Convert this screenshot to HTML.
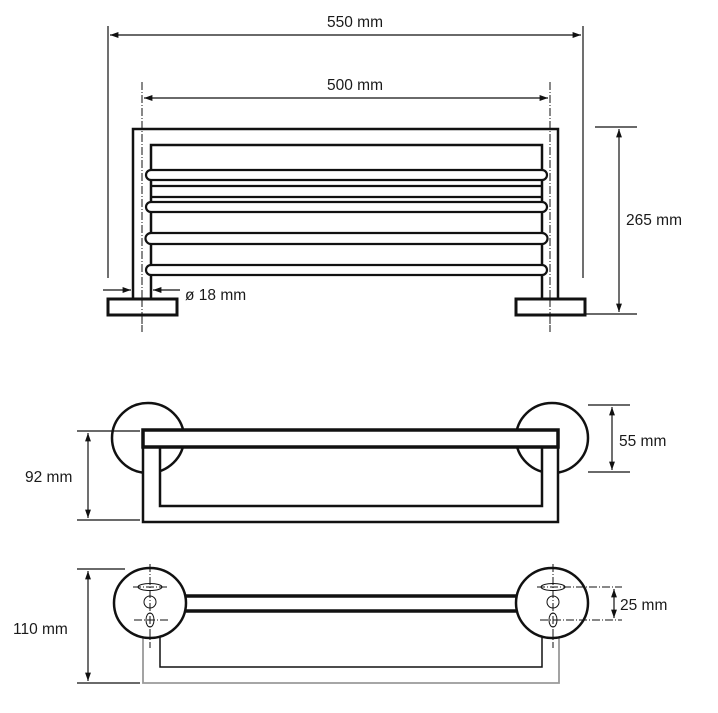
<!DOCTYPE html>
<html><head><meta charset="utf-8"><style>
html,body{margin:0;padding:0;background:#fff;}
svg{display:block;}
text{font-family:"Liberation Sans",sans-serif;font-size:15.5px;fill:#1a1a1a;}
</style></head><body>
<svg width="718" height="713" viewBox="0 0 718 713" xmlns="http://www.w3.org/2000/svg">
<defs>
<marker id="a" viewBox="0 0 10 10" refX="10" refY="5" markerWidth="7" markerHeight="7" orient="auto-start-reverse"><path d="M0,1.5 L10,5 L0,8.5 z" fill="#111"/></marker>
</defs>
<g fill="none" stroke="#111">
<line x1="108" y1="26" x2="108" y2="278" stroke-width="1.2"/>
<line x1="583" y1="26" x2="583" y2="278" stroke-width="1.2"/>
<line x1="110" y1="35" x2="581" y2="35" stroke-width="1.2" marker-start="url(#a)" marker-end="url(#a)"/>
<line x1="144" y1="98" x2="548" y2="98" stroke-width="1.2" marker-start="url(#a)" marker-end="url(#a)"/>
<line x1="142" y1="82" x2="142" y2="332" stroke-width="1" stroke-dasharray="8,2,1,2"/>
<line x1="550" y1="82" x2="550" y2="332" stroke-width="1" stroke-dasharray="8,2,1,2"/>
<path d="M133,299 V129 H558 V299" stroke-width="2.5"/>
<path d="M151,299 V145 H542 V299" stroke-width="2.5"/>
<g stroke-width="2.2" fill="#fff">
<path d="M151,170 H542 A5,5 0 0 1 542,180 H151 A5,5 0 0 1 151,170 z"/>
<path d="M151,186 H542 M151,197 H542"/>
<path d="M151,202 H542 A5,5 0 0 1 542,212 H151 A5,5 0 0 1 151,202 z"/>
<path d="M151,233 H542 A5,5 0 0 1 542,244 H151 A5,5 0 0 1 151,233 z"/>
<path d="M151,265 H542 A5,5 0 0 1 542,275 H151 A5,5 0 0 1 151,265 z"/>
</g>
<rect x="108" y="299" width="69" height="16" stroke-width="3" fill="#fff"/>
<rect x="516" y="299" width="69" height="16" stroke-width="3" fill="#fff"/>
<line x1="142" y1="299" x2="142" y2="332" stroke-width="1" stroke-dasharray="8,2,1,2"/>
<line x1="550" y1="299" x2="550" y2="332" stroke-width="1" stroke-dasharray="8,2,1,2"/>
<line x1="595" y1="127" x2="637" y2="127" stroke-width="1.2"/>
<line x1="585" y1="314" x2="637" y2="314" stroke-width="1.2"/>
<line x1="619" y1="129" x2="619" y2="312" stroke-width="1.2" marker-start="url(#a)" marker-end="url(#a)"/>
<line x1="103" y1="290" x2="131" y2="290" stroke-width="1.2" marker-end="url(#a)"/>
<line x1="180" y1="290" x2="153" y2="290" stroke-width="1.2" marker-end="url(#a)"/>

<!-- MIDDLE VIEW -->
<ellipse cx="148" cy="438" rx="36" ry="35" stroke-width="2.5" fill="#fff"/>
<ellipse cx="552" cy="438" rx="36" ry="35" stroke-width="2.5" fill="#fff"/>
<rect x="143" y="447" width="17" height="75" fill="#fff" stroke="none"/>
<rect x="542" y="447" width="16" height="75" fill="#fff" stroke="none"/>
<path d="M143,447 V522 H558 V447" stroke-width="2.5"/>
<path d="M160,447 V506 H542 V447" stroke-width="2.5"/>
<rect x="143" y="430" width="415" height="17" stroke-width="3.5" fill="#fff"/>
<line x1="77" y1="431" x2="140" y2="431" stroke-width="1.2"/>
<line x1="77" y1="520" x2="140" y2="520" stroke-width="1.2"/>
<line x1="88" y1="433" x2="88" y2="518" stroke-width="1.2" marker-start="url(#a)" marker-end="url(#a)"/>
<line x1="588" y1="405" x2="630" y2="405" stroke-width="1.2"/>
<line x1="588" y1="472" x2="630" y2="472" stroke-width="1.2"/>
<line x1="612" y1="407" x2="612" y2="470" stroke-width="1.2" marker-start="url(#a)" marker-end="url(#a)"/>

<!-- BOTTOM VIEW -->
<path d="M143,636 V683 H559 V636" stroke="#999" stroke-width="1.8"/>
<path d="M160,637 V667 H542 V637" stroke-width="1.5"/>
<ellipse cx="150" cy="603" rx="36" ry="35" stroke-width="2.5" fill="#fff"/>
<ellipse cx="552" cy="603" rx="36" ry="35" stroke-width="2.5" fill="#fff"/>
<line x1="186" y1="596" x2="516" y2="596" stroke-width="3.5"/>
<line x1="186" y1="611" x2="516" y2="611" stroke-width="3.5"/>
<g stroke-width="1">
<ellipse cx="150" cy="587" rx="12" ry="3.5"/>
<circle cx="150" cy="602" r="6"/>
<ellipse cx="150" cy="620" rx="4" ry="7"/>
<ellipse cx="553" cy="587" rx="12" ry="3.5"/>
<circle cx="553" cy="602" r="6"/>
<ellipse cx="553" cy="620" rx="4" ry="7"/>
<g stroke-dasharray="8,2,1,2">
<line x1="150" y1="564" x2="150" y2="648"/>
<line x1="133" y1="587" x2="168" y2="587"/>
<line x1="134" y1="620" x2="168" y2="620"/>
<line x1="553" y1="564" x2="553" y2="648"/>
<line x1="537" y1="587" x2="622" y2="587"/>
<line x1="540" y1="620" x2="622" y2="620"/>
</g>
</g>
<line x1="614" y1="589" x2="614" y2="618" stroke-width="1.2" marker-start="url(#a)" marker-end="url(#a)"/>
<line x1="77" y1="569" x2="125" y2="569" stroke-width="1.2"/>
<line x1="77" y1="683" x2="140" y2="683" stroke-width="1.2"/>
<line x1="88" y1="571" x2="88" y2="681" stroke-width="1.2" marker-start="url(#a)" marker-end="url(#a)"/>
</g>

<text x="327" y="27">550 mm</text>
<text x="327" y="90">500 mm</text>
<text x="626" y="225">265 mm</text>
<text x="185" y="300">ø 18 mm</text>
<text x="619" y="446">55 mm</text>
<text x="25" y="482">92 mm</text>
<text x="620" y="610">25 mm</text>
<text x="13" y="634">110 mm</text>
</svg>
</body></html>
